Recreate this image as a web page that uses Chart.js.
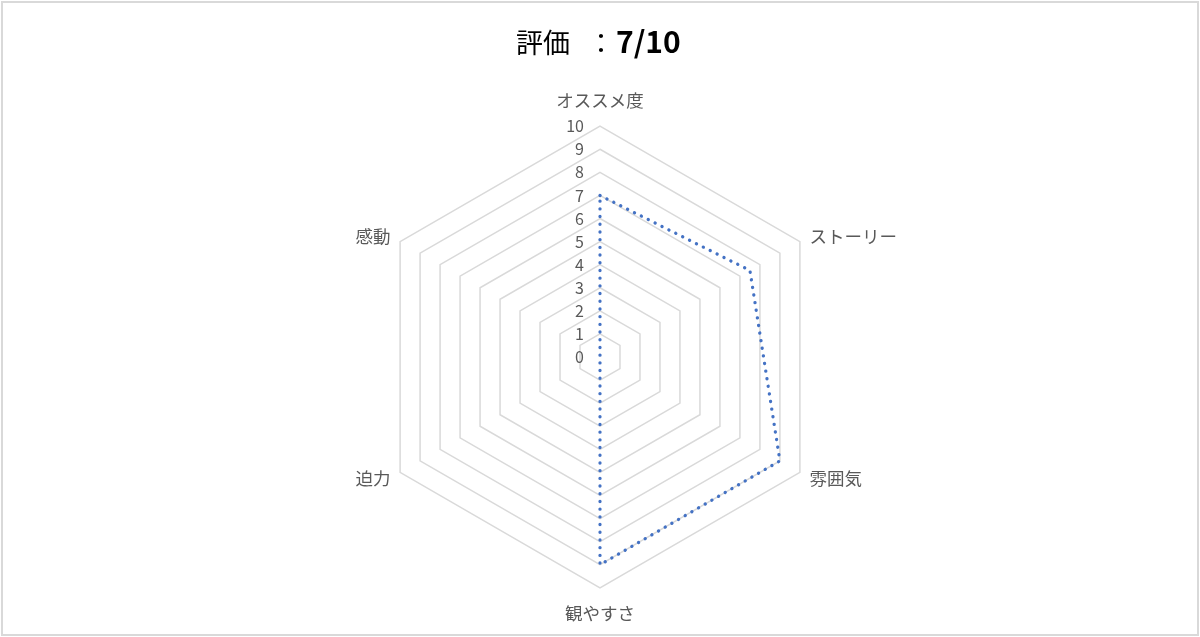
<!DOCTYPE html>
<html>
<head>
<meta charset="utf-8">
<script src="https://cdn.jsdelivr.net/npm/chart.js@4.4.1/dist/chart.umd.min.js"></script>
<style>
  html, body { margin: 0; padding: 0; background: #ffffff; }
  #wrap { position: relative; width: 1200px; height: 637px; }
  #frame { position: absolute; left: 1px; top: 1px; width: 1194px; height: 631px; border: 2px solid #d9d9d9; pointer-events: none; }
  canvas { display: block; }
</style>
</head>
<body>
<div id="wrap">
  <canvas id="c" width="1200" height="637"></canvas>
  <div id="frame"></div>
</div>
<script>
// ---- data ----
const categories = ['オススメ度', 'ストーリー', '雰囲気', '観やすさ', '迫力', '感動'];
const scores = [7, 7.5, 9, 9, 0, 0];
const tickValues = [0, 1, 2, 3, 4, 5, 6, 7, 8, 9, 10];
const titleMain = '評価：';
const titleScore = '7/10';

const FONT = '"Noto Sans CJK JP", "Noto Sans", sans-serif';
const LABEL_COLOR = '#595959';

const titlePlugin = {
  id: 'mixedTitle',
  afterDraw(chart) {
    const ctx = chart.ctx;
    const cx = chart.width / 2;
    ctx.save();
    ctx.fillStyle = '#000000';
    ctx.textBaseline = 'alphabetic';
    const y = 53;
    ctx.font = '27px ' + FONT;
    ctx.textAlign = 'left';
    ctx.fillText(titleMain.slice(0, 2), cx - 84, y);
    ctx.textAlign = 'center';
    ctx.fillText(titleMain.slice(2), cx + 1, y);
    ctx.font = 'bold 30px ' + FONT;
    ctx.textAlign = 'left';
    ctx.fillText(titleScore, cx + 16, y);
    ctx.restore();
  }
};

const tickPlugin = {
  id: 'tickLabels',
  afterDraw(chart) {
    const scale = chart.scales.r;
    const ctx = chart.ctx;
    ctx.save();
    ctx.font = '16px ' + FONT;
    ctx.fillStyle = LABEL_COLOR;
    ctx.textAlign = 'right';
    ctx.textBaseline = 'middle';
    tickValues.forEach(v => {
      const d = scale.getDistanceFromCenterForValue(v);
      ctx.fillText(String(v), scale.xCenter - 16, scale.yCenter - d);
    });
    ctx.restore();
  }
};

new Chart(document.getElementById('c'), {
  type: 'radar',
  data: {
    labels: categories,
    datasets: [{
      label: '評価',
      data: scores,
      fill: false,
      borderColor: '#4472C4',
      borderWidth: 3.3,
      borderDash: [0.1, 7.6],
      borderCapStyle: 'round',
      borderJoinStyle: 'round',
      pointRadius: 0,
      pointHoverRadius: 0,
      tension: 0
    }]
  },
  options: {
    responsive: false,
    animation: false,
    devicePixelRatio: 1,
    layout: { padding: { top: 100, bottom: 23, left: 0, right: 0 } },
    plugins: {
      legend: { display: false },
      tooltip: { enabled: false },
      title: { display: false }
    },
    scales: {
      r: {
        min: 0,
        max: 10,
        beginAtZero: true,
        ticks: { display: false, stepSize: 1 },
        grid: { circular: false, color: '#d9d9d9', lineWidth: 1.5 },
        angleLines: { display: false },
        pointLabels: {
          color: LABEL_COLOR,
          font: { family: FONT, size: 17.5, lineHeight: 0.01 },
          padding: (ctx) => (ctx.index === 0 ? 26 : (ctx.index === 3 ? 25 : 11))
        }
      }
    }
  },
  plugins: [titlePlugin, tickPlugin]
});
</script>
</body>
</html>
